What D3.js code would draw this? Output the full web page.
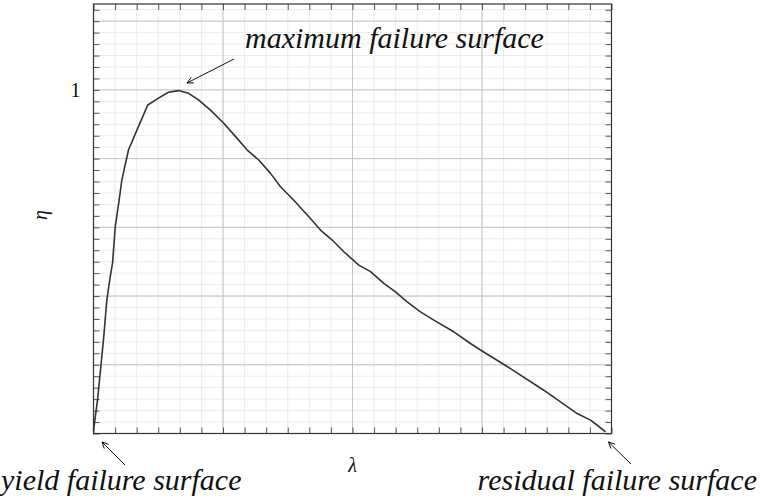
<!DOCTYPE html>
<html>
<head>
<meta charset="utf-8">
<script src="https://cdn.jsdelivr.net/npm/d3@7"></script>
<style>
  html, body { margin: 0; padding: 0; background: #fff; }
  svg { display: block; }
</style>
</head>
<body>
<svg id="chart" width="760" height="501"></svg>
<script>
// ---- data ----
const lambdaValues = [0.000, 0.031, 0.059, 0.077, 0.103, 0.129, 0.147, 0.168, 0.198, 0.219, 0.270, 0.347, 0.419, 0.502, 0.579, 0.656, 0.734, 0.811, 0.903, 1.006, 1.097, 1.187, 1.276, 1.367, 1.444, 1.547, 1.663, 1.753, 1.843, 1.933, 2.049, 2.139, 2.242, 2.332, 2.422, 2.525, 2.628, 2.782, 2.911, 2.988, 3.220, 3.477, 3.735, 3.838, 3.890, 3.954];
const etaValues    = [0.010, 0.097, 0.204, 0.272, 0.388, 0.456, 0.496, 0.602, 0.679, 0.738, 0.825, 0.893, 0.956, 0.976, 0.993, 0.998, 0.990, 0.971, 0.941, 0.903, 0.864, 0.825, 0.796, 0.757, 0.718, 0.679, 0.631, 0.592, 0.563, 0.529, 0.490, 0.471, 0.437, 0.412, 0.383, 0.354, 0.330, 0.296, 0.262, 0.243, 0.189, 0.126, 0.058, 0.039, 0.024, 0.005];
const xMajorTicks = [0, 1, 2, 3, 4];
const yMajorTicks = [0, 0.2, 0.4, 0.6, 0.8, 1.0, 1.2];
const yTickLabelValues = [1];
const yTickLabels = ["1"];
const annotations = ["maximum failure surface", "yield failure surface", "residual failure surface"];
const xLabel = "λ";
const yLabel = "η";

const SERIF = "'Liberation Serif', 'Times New Roman', serif";

// ---- layout ----
const svg = d3.select("#chart");
const L = 93.5, R = 611.5, T = 4, B = 433.5;
const x = d3.scaleLinear().domain([0, 4]).range([L, R]);
const y = d3.scaleLinear().domain([0, 1.25]).range([B, T]);

const xMinor = d3.range(0, 24 + 1).map(i => i / 6);
const yMinor = d3.range(0, 37 + 1).map(i => i * 0.2 / 6).filter(v => v <= 1.25);

// minor grid
const g = svg.append("g");
g.append("g").selectAll("line").data(xMinor).join("line")
  .attr("x1", d => x(d)).attr("x2", d => x(d)).attr("y1", T).attr("y2", B)
  .attr("stroke", "#ececec").attr("stroke-width", 1);
g.append("g").selectAll("line").data(yMinor).join("line")
  .attr("y1", d => y(d)).attr("y2", d => y(d)).attr("x1", L).attr("x2", R)
  .attr("stroke", "#ececec").attr("stroke-width", 1);
// major grid
g.append("g").selectAll("line").data(xMajorTicks).join("line")
  .attr("x1", d => x(d)).attr("x2", d => x(d)).attr("y1", T).attr("y2", B)
  .attr("stroke", "#c4c4c4").attr("stroke-width", 1);
g.append("g").selectAll("line").data(yMajorTicks).join("line")
  .attr("y1", d => y(d)).attr("y2", d => y(d)).attr("x1", L).attr("x2", R)
  .attr("stroke", "#c4c4c4").attr("stroke-width", 1);

// ticks via d3 axes (inward, no labels)
const tickLen = 6;
function styleAxis(sel) {
  sel.select(".domain").remove();
  sel.selectAll(".tick line").attr("stroke", "#555").attr("stroke-width", 1);
  sel.selectAll(".tick text").remove();
}
svg.append("g").attr("transform", `translate(0,${B})`)
  .call(d3.axisBottom(x).tickValues(xMinor).tickSize(-tickLen)).call(styleAxis);
svg.append("g").attr("transform", `translate(0,${T})`)
  .call(d3.axisTop(x).tickValues(xMinor).tickSize(-tickLen)).call(styleAxis);
svg.append("g").attr("transform", `translate(${L},0)`)
  .call(d3.axisLeft(y).tickValues(yMinor).tickSize(-tickLen)).call(styleAxis);
svg.append("g").attr("transform", `translate(${R},0)`)
  .call(d3.axisRight(y).tickValues(yMinor).tickSize(-tickLen)).call(styleAxis);

// frame
svg.append("rect").attr("x", L).attr("y", T).attr("width", R - L).attr("height", B - T)
  .attr("fill", "none").attr("stroke", "#333").attr("stroke-width", 1.2);

// y tick label
svg.append("g").selectAll("text").data(yTickLabelValues).join("text")
  .attr("x", L - 13).attr("y", d => y(d)).attr("dy", "0.34em")
  .attr("text-anchor", "end").attr("font-family", SERIF).attr("font-size", 20).attr("fill", "#111")
  .text((d, i) => yTickLabels[i]);

// curve
const pts = lambdaValues.map((v, i) => [v, etaValues[i]]);
svg.append("path").datum(pts)
  .attr("d", d3.line().x(d => x(d[0])).y(d => y(d[1])).curve(d3.curveLinear))
  .attr("fill", "none").attr("stroke", "#333").attr("stroke-width", 1.6)
  .attr("stroke-linejoin", "round");

// axis labels
svg.append("text").attr("x", x(2)).attr("y", 472).attr("text-anchor", "middle")
  .attr("font-family", SERIF).attr("font-size", 20).attr("font-style", "italic").attr("fill", "#111").text(xLabel);
svg.append("text").attr("transform", "translate(47,215) rotate(-90)")
  .attr("text-anchor", "middle").attr("font-family", SERIF).attr("font-size", 20).attr("font-style", "italic").attr("fill", "#111").text(yLabel);

// arrows
function arrow(x1, y1, x2, y2) {
  svg.append("line").attr("x1", x1).attr("y1", y1).attr("x2", x2).attr("y2", y2)
    .attr("stroke", "#111").attr("stroke-width", 1);
  const a = Math.atan2(y2 - y1, x2 - x1);
  const len = 7, spread = 0.45;
  const p = [
    [x2 - len * Math.cos(a - spread), y2 - len * Math.sin(a - spread)],
    [x2, y2],
    [x2 - len * Math.cos(a + spread), y2 - len * Math.sin(a + spread)]
  ];
  svg.append("path").attr("d", d3.line()(p)).attr("fill", "none")
    .attr("stroke", "#111").attr("stroke-width", 1);
}
arrow(234, 59, 187, 83);
arrow(125, 465, 102, 442);
arrow(631, 464, 608.5, 442);

// annotations
function note(txt, xx, yy, anchor) {
  svg.append("text").attr("x", xx).attr("y", yy).attr("text-anchor", anchor)
    .attr("font-family", SERIF).attr("font-size", 30).attr("font-style", "italic").attr("fill", "#111")
    .text(txt);
}
note(annotations[0], 245, 48, "start");
note(annotations[1], 1, 490, "start");
note(annotations[2], 757, 490, "end");
</script>
</body>
</html>
